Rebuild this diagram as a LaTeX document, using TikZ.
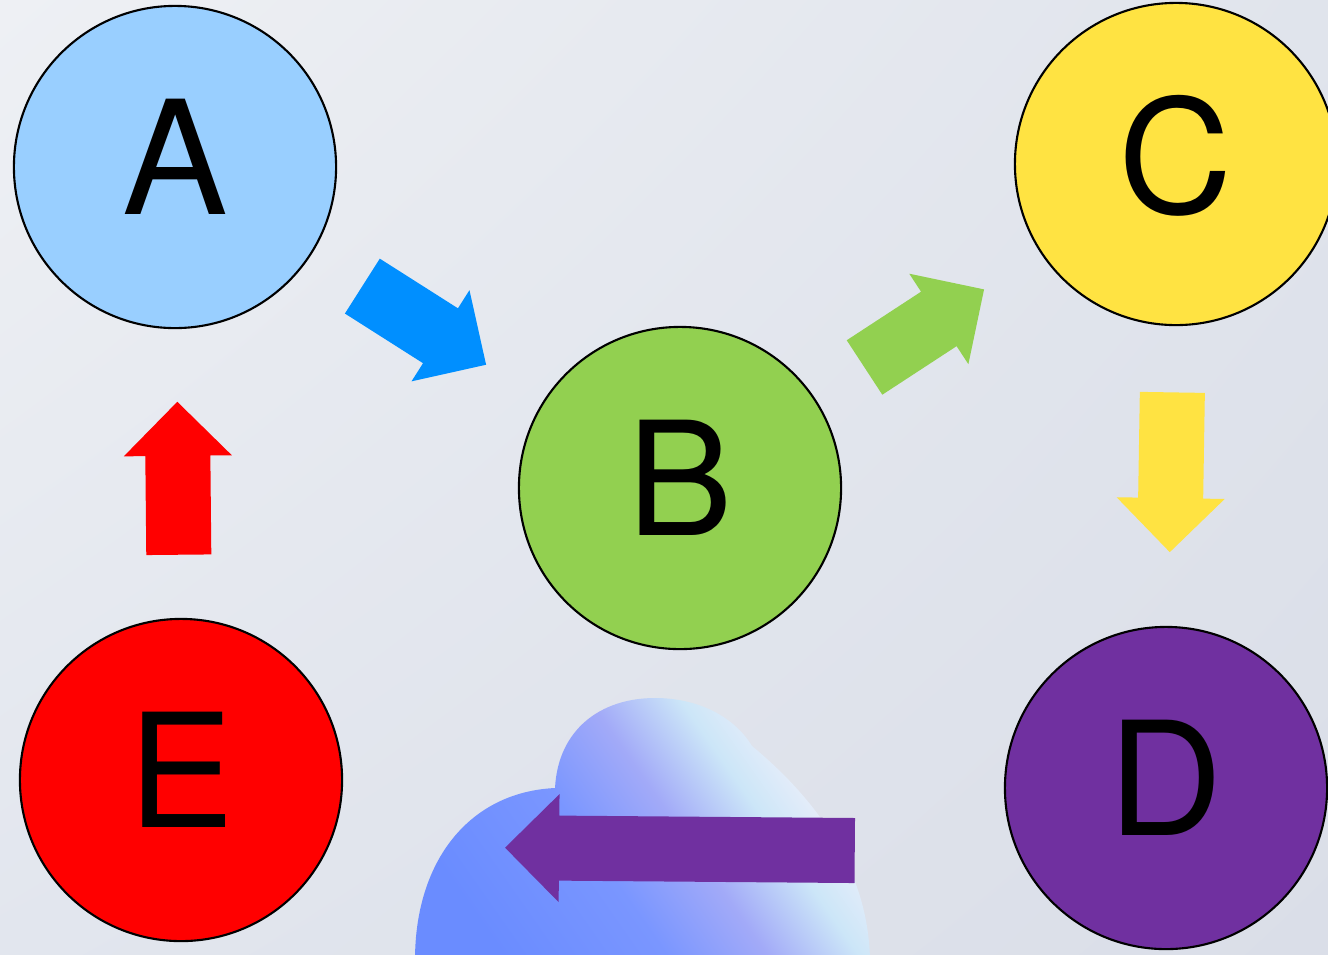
\documentclass[tikz,border=0pt]{standalone}
\usepackage{fontspec}
\setmainfont{TeX Gyre Heros}
\usetikzlibrary{calc,shadings}

\definecolor{grundLO}{HTML}{EEF0F4}
\definecolor{grundRO}{HTML}{E0E4EC}
\definecolor{grundLU}{HTML}{E2E6EE}
\definecolor{grundRU}{HTML}{DADEE8}
\definecolor{hellblau}{HTML}{99CFFF}
\definecolor{gruen}{HTML}{92D050}
\definecolor{gelb}{HTML}{FFE342}
\definecolor{lila}{HTML}{7030A0}
\definecolor{rot}{HTML}{FF0000}
\definecolor{blau}{HTML}{008FFF}
\definecolor{wolke1}{HTML}{6A8CFF}
\definecolor{wolke2}{HTML}{7A96FF}
\definecolor{wolke3}{HTML}{A2AAF8}
\definecolor{wolke4}{HTML}{CCE6F8}
\definecolor{wolke5}{HTML}{F2F0FA}

\pgfdeclarehorizontalshading{wolke}{100bp}{color(0bp)=(wolke1); color(25bp)=(wolke1);
	color(43bp)=(wolke2); color(54bp)=(wolke3); color(64bp)=(wolke4); color(74bp)=(wolke5);
	color(100bp)=(wolke5)}

\tikzset{
	kreis/.style={circle, draw=black, line width=0.6pt, minimum size=3.22cm, inner sep=0pt,
		font=\fontsize{45}{50}\selectfont, text depth=0.2cm}
}

% Blockpfeil: von, nach, Anfang, Ende, Farbe
\newcommand{\blockpfeil}[5]{
	\coordinate (anfang) at ($(#1)!#3!(#2)$);
	\coordinate (spitze) at ($(#1)!#4!(#2)$);
	\coordinate (hals) at ($(spitze)!0.54cm!(anfang)$);
	\fill [#5] ($(anfang)!0.325cm!90:(spitze)$) -- ($(hals)!0.325cm!-90:(anfang)$)
		-- ($(hals)!0.54cm!-90:(anfang)$) -- (spitze) -- ($(hals)!0.54cm!90:(anfang)$)
		-- ($(hals)!0.325cm!90:(anfang)$) -- ($(anfang)!0.325cm!-90:(spitze)$) -- cycle;
}

\begin{document}
\begin{tikzpicture}[x=0.01cm, y=-0.01cm]
		\clip (0, 0) rectangle (1328, 954);
		% Hintergrund
		\shade [upper left=grundLO, upper right=grundRO, lower left=grundLU, lower right=grundRU]
			(0, 0) rectangle (1328, 954);
		% Wolke
		\shade [shading=wolke, shading angle=35]
			(415, 960) .. controls (415, 860) and (470, 792) .. (555, 788)
			.. controls (558, 730) and (600, 698) .. (655, 698)
			.. controls (700, 698) and (735, 718) .. (752, 746)
			.. controls (805, 790) and (868, 860) .. (870, 960) -- cycle;
		% Kreise
		\node [kreis, fill=hellblau] (A) at (175, 167) {A};
		\node [kreis, fill=gruen] (B) at (680, 488) {B};
		\node [kreis, fill=gelb] (C) at (1176, 164) {C};
		\node [kreis, fill=lila] (D) at (1166, 788) {D};
		\node [kreis, fill=rot] (E) at (181, 780) {E};
		% Pfeile
		\blockpfeil{A}{B}{0.371}{0.616}{blau}
		\blockpfeil{B}{C}{0.372}{0.613}{gruen}
		\blockpfeil{C}{D}{0.366}{0.622}{gelb}
		\blockpfeil{E}{A}{0.3675}{0.617}{rot}
		\coordinate (Dunten) at ([yshift=-0.65cm]D.center);
		\coordinate (Eunten) at ([yshift=-0.65cm]E.center);
		\blockpfeil{Dunten}{Eunten}{0.316}{0.671}{lila}
	\end{tikzpicture}
\end{document}
